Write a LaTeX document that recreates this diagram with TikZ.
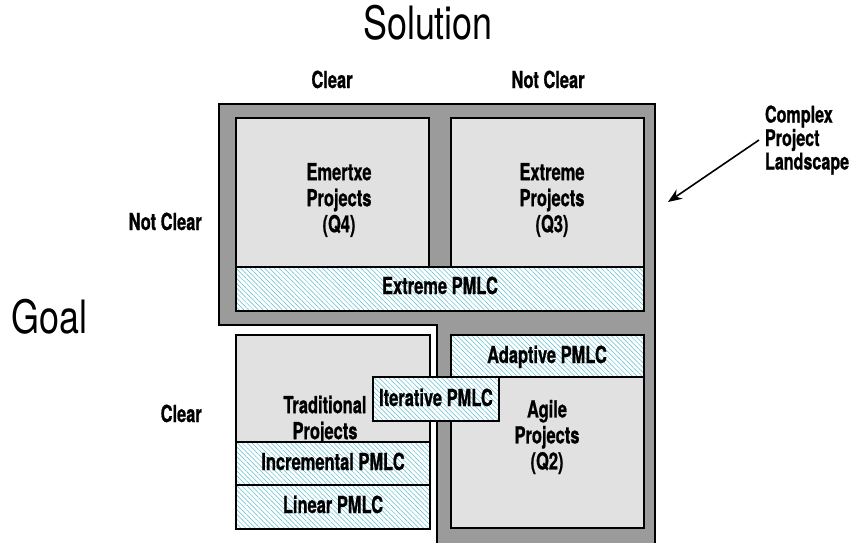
\documentclass[tikz,border=0pt]{standalone}
\usepackage{fontspec}
\setmainfont{TeX Gyre Heros}[FakeStretch=0.78, BoldFeatures={FakeBold=0.8, FakeStretch=0.7}]
\usetikzlibrary{arrows.meta,patterns.meta}

\definecolor{landgray}{RGB}{155,155,155}
\definecolor{boxgray}{RGB}{225,225,225}
\definecolor{hatchcyan}{RGB}{90,190,210}

\tikzset{
  quad/.style={draw=black, line width=1.2pt, fill=boxgray},
  pmlc/.style={draw=black, line width=1.2pt, preaction={fill=white},
    pattern={Lines[angle=-45,distance=3.4pt,line width=0.5pt]}, pattern color=hatchcyan},
  lbl/.style={font=\bfseries\fontsize{23.5}{26}\selectfont, align=center, inner sep=0pt},
  axis/.style={font=\fontsize{46}{50}\selectfont, inner sep=0pt},
}

\begin{document}
\begin{tikzpicture}[x=1pt,y=-1pt]
      \useasboundingbox (0,0) rectangle (859,542);
      % axes
      \node[axis, anchor=base] (sol) at (428,39) {Solution};
      \node[axis, anchor=base west] (goal) at (11,333) {Goal};
      \node[lbl, anchor=base] (sclear) at (332,88) {Clear};
      \node[lbl, anchor=base] (snclear) at (548,88) {Not Clear};
      \node[lbl, anchor=base east] (gnclear) at (202,230) {Not Clear};
      \node[lbl, anchor=base east] (gclear) at (202,422) {Clear};
      % landscape
      \draw[line width=1.2pt, fill=landgray]
        (219,104) -- (655,104) -- (655,546) -- (437,546) -- (437,325) -- (219,325) -- cycle;
      \draw[quad] (236,118) rectangle (429,267);
      \draw[quad] (451,118) rectangle (644,267);
      \node[lbl] (q4) at (339,200) {Emertxe\\Projects\\(Q4)};
      \node[lbl] (q3) at (552,200) {Extreme\\Projects\\(Q3)};
      \draw[pmlc] (236,267) rectangle (644,311);
      \node[lbl, anchor=base] (xpmlc) at (440,294) {Extreme PMLC};
      % lower left
      \draw[quad] (236,335) rectangle (430,442);
      \node[lbl] (q1) at (325,420) {Traditional\\Projects};
      \draw[pmlc] (236,442) rectangle (430,485);
      \node[lbl, anchor=base] (ipmlc) at (333,470) {Incremental PMLC};
      \draw[pmlc] (236,485) rectangle (430,529);
      \node[lbl, anchor=base] (lpmlc) at (333,513) {Linear PMLC};
      % lower right
      \draw[pmlc] (451,335) rectangle (644,377);
      \node[lbl, anchor=base] (apmlc) at (547,363) {Adaptive PMLC};
      \draw[quad] (451,377) rectangle (644,528);
      \node[lbl] (q2) at (547,437) {Agile\\Projects\\(Q2)};
      \draw[pmlc] (373,377) rectangle (499,421);
      \node[lbl, anchor=base] (tpmlc) at (436,406) {Iterative PMLC};
      % callout
      \node[lbl, align=left, anchor=west, outer sep=6pt,
        font=\bfseries\fontsize{23}{23.5}\selectfont] (cpl) at (759,140) {Complex\\Project\\Landscape};
      \coordinate (tip) at (668,202);
      \begin{scope}[-{Stealth[length=14pt,width=11pt]}]
        \draw[line width=1.6pt] (cpl.west) to (tip);
      \end{scope}
    \end{tikzpicture}
\end{document}
